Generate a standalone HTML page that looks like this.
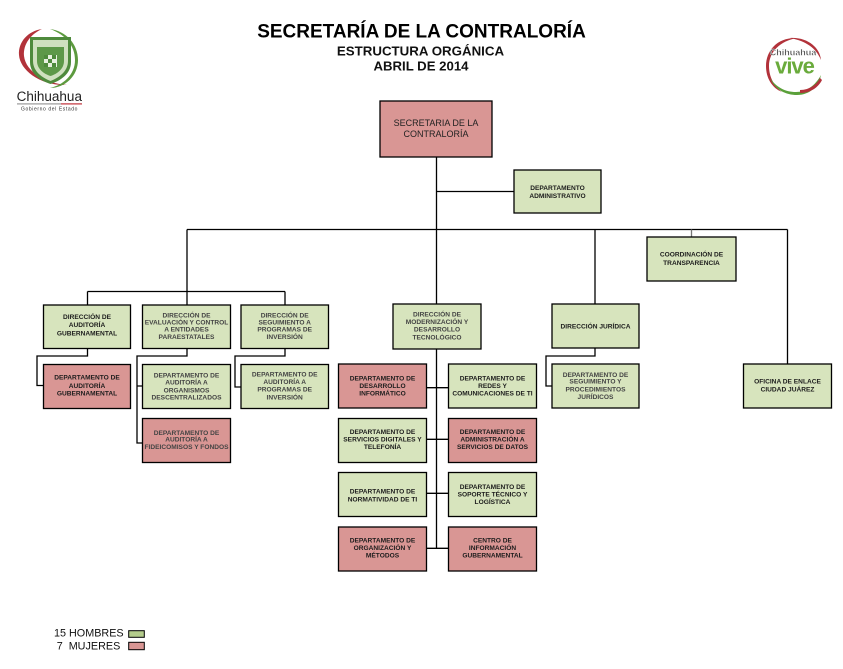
<!DOCTYPE html>
<html><head><meta charset="utf-8"><style>
html,body{margin:0;padding:0;background:#fff;}
svg{display:block;}
.t{font-family:"Liberation Sans",Arial,sans-serif;font-weight:bold;font-size:6.6px;fill:#1c1c1c;text-anchor:middle;}
.l{fill:#444;}
.g{fill:#d7e4bd;stroke:#000;stroke-width:1.3;}
.p{fill:#d99694;stroke:#000;stroke-width:1.3;}
.c{fill:none;stroke:#000;stroke-width:1.3;}
</style></head><body>
<svg width="843" height="669" viewBox="0 0 843 669" xmlns="http://www.w3.org/2000/svg">
<rect width="843" height="669" fill="#fff"/>
<!-- Title -->
<g font-family="Liberation Sans, Arial, sans-serif" font-weight="bold" text-anchor="middle" fill="#000">
<text x="421.5" y="37.3" font-size="19">SECRETARÍA DE LA CONTRALORÍA</text>
<text x="420.5" y="55.3" font-size="13.3" fill="#111">ESTRUCTURA ORGÁNICA</text>
<text x="421" y="70.3" font-size="13.2" fill="#111">ABRIL DE 2014</text>
</g>

<!-- Left logo -->
<g>
<path d="M42 29 C28 31 18 42 19 55 C20 70 40 86 67 85 C45 83 26 72 24 56 C23 44 31 34 42 29 Z" fill="#b2323a"/>
<path d="M50 29 C66 31 78 44 78 60 C78 76 65 88 50 88 C63 85 75 75 75 60 C75 46 66 35 50 29 Z" fill="#5c9a3e"/>
<path d="M30 37 H71 V62 C71 74 60 81 50.5 84 C41 81 30 74 30 62 Z" fill="#4e8a3c"/>
<path d="M33 40 H68 V61 C68 72 58 78 50.5 81 C43 78 33 72 33 61 Z" fill="#cfe0bf"/>
<path d="M37 47 H64 V61 C64 69 57 74 50.5 76 C44 74 37 69 37 61 Z" fill="#5d9848"/>
<rect x="44" y="55" width="13" height="12" fill="#e8f0e0"/>
<rect x="44" y="55" width="4" height="4" fill="#4e8a3c"/><rect x="52" y="55" width="4" height="4" fill="#4e8a3c"/>
<rect x="48" y="59" width="4" height="4" fill="#4e8a3c"/><rect x="44" y="63" width="4" height="4" fill="#4e8a3c"/><rect x="52" y="63" width="4" height="4" fill="#4e8a3c"/>
<text x="49.3" y="101" font-family="Liberation Sans, Arial, sans-serif" font-size="13.5" text-anchor="middle" fill="#222">Chihuahua</text>
<rect x="17" y="103.3" width="44" height="1.2" fill="#999"/>
<rect x="61" y="103.3" width="21" height="1.2" fill="#c0303a"/>
<text x="49.5" y="110.5" font-family="Liberation Sans, Arial, sans-serif" font-size="5" letter-spacing="0.6" text-anchor="middle" fill="#333">Gobierno del Estado</text>
</g>

<!-- Right logo -->
<g>
<path d="M797 38 C778 37 766 50 766 66 C766 78 772 88 782 92 C774 86 769 77 769 66 C769 52 780 41 797 38 Z" fill="#b2323a"/>
<path d="M790 38 C808 37 820 48 821 60 C816 48 806 41 790 38 Z" fill="#b2323a"/>
<path d="M770 78 C775 90 786 95 797 95 C810 95 819 86 821 75 C815 86 806 92 796 92 C785 92 776 87 770 78 Z" fill="#5aa03a"/>
<path d="M800 90 C810 90 817 84 820 78 L822 80 C818 88 810 93 800 93 Z" fill="#b2323a"/>
<text x="793" y="55.5" font-family="Liberation Sans, Arial, sans-serif" font-weight="bold" font-size="9" text-anchor="middle" fill="#333" stroke="#fff" stroke-width="0.4">Chihuahua</text>
<text x="794.5" y="73.5" font-family="Liberation Sans, Arial, sans-serif" font-weight="bold" font-size="22" text-anchor="middle" fill="#6aab3c" letter-spacing="-1">vive</text>
</g>

<!-- Connectors -->
<path class="c" d="M436.5 157 V304 M436.5 191.5 H514 M187 229.5 H787.5 M187 229.5 V291.5 M87.5 291.5 H285 M87.5 291.5 V305 M187 291.5 V305 M285 291.5 V305 M595 229.5 V304 M787.5 229.5 V364"/>
<path d="M691.5 229.5 V237" stroke="#777" stroke-width="1.3"/>
<path class="c" d="M87.5 348.5 V356 H37 V385.5 H43.5 M187 348.5 V356 H137 V443 H142.5 M137 386 H142.5 M285 348.5 V356 H235 V387 H241 M595 348 V356 H546 V386 H552"/>
<path class="c" d="M436.5 349 V548.5 M426.5 387.7 H448.5 M426.5 439.3 H448.5 M426.5 493.3 H448.5 M426.5 548.3 H448.5"/>

<!-- Main box -->
<rect class="p" x="380" y="101" width="112" height="56"/>
<g font-family="Liberation Sans, Arial, sans-serif" font-size="9" text-anchor="middle" fill="#222">
<text x="436" y="126">SECRETARIA DE LA</text>
<text x="436" y="137">CONTRALORÍA</text>
</g>

<!-- Admin -->
<rect class="g" x="514" y="170" width="87" height="43"/>
<text class="t" x="557.5" y="190">DEPARTAMENTO</text>
<text class="t" x="557.5" y="198">ADMINISTRATIVO</text>

<!-- Coordinacion -->
<rect class="g" x="647" y="237" width="89" height="44"/>
<text class="t" x="691.5" y="256.6">COORDINACIÓN DE</text>
<text class="t" x="691.5" y="265">TRANSPARENCIA</text>

<!-- Direcciones -->
<rect class="g" x="43.5" y="305" width="87" height="43.5"/>
<text class="t" x="87" y="319">DIRECCIÓN DE</text>
<text class="t" x="87" y="327">AUDITORÍA</text>
<text class="t" x="87" y="335.6">GUBERNAMENTAL</text>

<rect class="g" x="142.5" y="305" width="88" height="43.5"/>
<text class="t l" x="186.5" y="317.3">DIRECCIÓN DE</text>
<text class="t l" x="186.5" y="324.6">EVALUACIÓN Y CONTROL</text>
<text class="t l" x="186.5" y="331.6">A ENTIDADES</text>
<text class="t l" x="186.5" y="339">PARAESTATALES</text>

<rect class="g" x="241" y="305" width="87.5" height="43.5"/>
<text class="t l" x="284.7" y="317.3">DIRECCIÓN DE</text>
<text class="t l" x="284.7" y="324.6">SEGUIMIENTO A</text>
<text class="t l" x="284.7" y="331.6">PROGRAMAS DE</text>
<text class="t l" x="284.7" y="339">INVERSIÓN</text>

<rect class="g" x="393" y="304" width="88" height="45"/>
<text class="t l" x="437" y="316.6">DIRECCIÓN DE</text>
<text class="t l" x="437" y="324">MODERNIZACIÓN Y</text>
<text class="t l" x="437" y="331.6">DESARROLLO</text>
<text class="t l" x="437" y="339.3">TECNOLÓGICO</text>

<rect class="g" x="552" y="304" width="87" height="44"/>
<text class="t" x="595.5" y="328.3">DIRECCIÓN JURÍDICA</text>

<!-- Left departments -->
<rect class="p" x="43.5" y="364.5" width="87" height="44"/>
<text class="t" x="87" y="379.6">DEPARTAMENTO DE</text>
<text class="t" x="87" y="388">AUDITORÍA</text>
<text class="t" x="87" y="395.6">GUBERNAMENTAL</text>

<rect class="g" x="142.5" y="364.5" width="88" height="44"/>
<text class="t l" x="186.5" y="377.3">DEPARTAMENTO DE</text>
<text class="t l" x="186.5" y="384.6">AUDITORÍA A</text>
<text class="t l" x="186.5" y="392.3">ORGANISMOS</text>
<text class="t l" x="186.5" y="399.6">DESCENTRALIZADOS</text>

<rect class="p" x="142.5" y="418.5" width="88" height="44"/>
<text class="t l" x="186.5" y="435">DEPARTAMENTO DE</text>
<text class="t l" x="186.5" y="441.6">AUDITORÍA A</text>
<text class="t l" x="186.5" y="449">FIDEICOMISOS Y FONDOS</text>

<rect class="g" x="241" y="364.5" width="87.5" height="44"/>
<text class="t l" x="284.7" y="376.6">DEPARTAMENTO DE</text>
<text class="t l" x="284.7" y="384">AUDITORÍA A</text>
<text class="t l" x="284.7" y="391.6">PROGRAMAS DE</text>
<text class="t l" x="284.7" y="399.3">INVERSIÓN</text>

<!-- Modernizacion departments -->
<rect class="p" x="338.5" y="364" width="88" height="44"/>
<text class="t" x="382.5" y="380.6">DEPARTAMENTO DE</text>
<text class="t" x="382.5" y="388">DESARROLLO</text>
<text class="t" x="382.5" y="395.6">INFORMÁTICO</text>

<rect class="g" x="448.5" y="364" width="88" height="44"/>
<text class="t" x="492.5" y="380.6">DEPARTAMENTO DE</text>
<text class="t" x="492.5" y="388">REDES Y</text>
<text class="t" x="492.5" y="395.6">COMUNICACIONES DE TI</text>

<rect class="g" x="338.5" y="418.5" width="88" height="44"/>
<text class="t" x="382.5" y="434">DEPARTAMENTO DE</text>
<text class="t" x="382.5" y="441.6">SERVICIOS DIGITALES Y</text>
<text class="t" x="382.5" y="449">TELEFONÍA</text>

<rect class="p" x="448.5" y="418.5" width="88" height="44"/>
<text class="t" x="492.5" y="434">DEPARTAMENTO DE</text>
<text class="t" x="492.5" y="441.6">ADMINISTRACIÓN A</text>
<text class="t" x="492.5" y="449">SERVICIOS DE DATOS</text>

<rect class="g" x="338.5" y="472.5" width="88" height="44"/>
<text class="t" x="382.5" y="493.3">DEPARTAMENTO DE</text>
<text class="t" x="382.5" y="501.6">NORMATIVIDAD DE TI</text>

<rect class="g" x="448.5" y="472.5" width="88" height="44"/>
<text class="t" x="492.5" y="489">DEPARTAMENTO DE</text>
<text class="t" x="492.5" y="496.3">SOPORTE TÉCNICO Y</text>
<text class="t" x="492.5" y="504">LOGÍSTICA</text>

<rect class="p" x="338.5" y="527" width="88" height="44"/>
<text class="t" x="382.5" y="542.3">DEPARTAMENTO DE</text>
<text class="t" x="382.5" y="550">ORGANIZACIÓN Y</text>
<text class="t" x="382.5" y="557.3">MÉTODOS</text>

<rect class="p" x="448.5" y="527" width="88" height="44"/>
<text class="t" x="492.5" y="542.3">CENTRO DE</text>
<text class="t" x="492.5" y="550">INFORMACIÓN</text>
<text class="t" x="492.5" y="557.3">GUBERNAMENTAL</text>

<!-- Juridica department -->
<rect class="g" x="552" y="364" width="87" height="44"/>
<text class="t l" x="595.5" y="377">DEPARTAMENTO DE</text>
<text class="t l" x="595.5" y="383.6">SEGUIMIENTO Y</text>
<text class="t l" x="595.5" y="391.6">PROCEDIMIENTOS</text>
<text class="t l" x="595.5" y="399">JURÍDICOS</text>

<!-- Oficina -->
<rect class="g" x="743.5" y="364" width="88" height="44"/>
<text class="t" x="787.5" y="383.6">OFICINA DE ENLACE</text>
<text class="t" x="787.5" y="391.6">CIUDAD JUÁREZ</text>

<!-- Legend -->
<g font-family="Liberation Sans, Arial, sans-serif" font-size="10.8" fill="#111">
<text x="54" y="636.7">15 HOMBRES</text>
<text x="56.7" y="649.3" xml:space="preserve">7  MUJERES</text>
</g>
<rect x="128.7" y="630.7" width="15.6" height="6.6" fill="#b4cc8c" stroke="#000" stroke-width="1"/>
<rect x="128.7" y="642.3" width="15.6" height="7.4" fill="#d99694" stroke="#000" stroke-width="1"/>
</svg>
</body></html>
